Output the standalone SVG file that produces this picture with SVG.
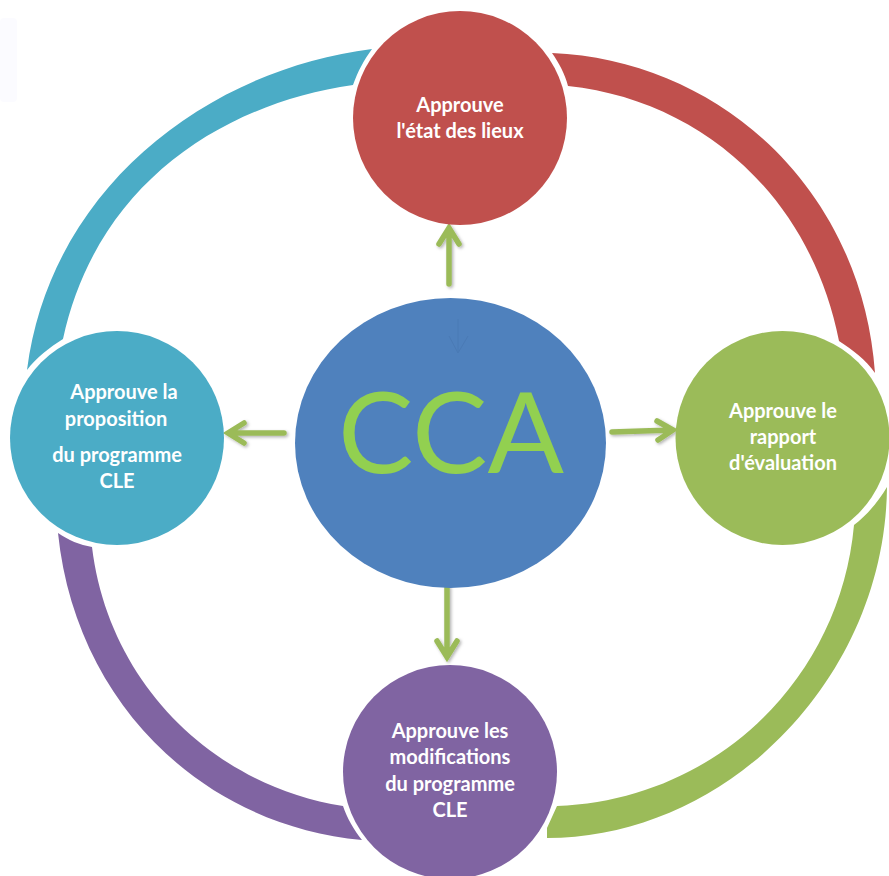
<svg xmlns="http://www.w3.org/2000/svg" width="889" height="876" viewBox="0 0 889 876">
<defs>
<filter id="sh" x="-40%" y="-40%" width="180%" height="180%"><feDropShadow dx="1.5" dy="1.5" stdDeviation="1.5" flood-color="#000" flood-opacity="0.3"/></filter>
</defs>
<style>
text{font-family:"Lato","Carlito","Liberation Sans",sans-serif;font-weight:700;font-size:20px;fill:#fff;text-anchor:middle}
.arrow{fill:none;stroke:#9BBB59;stroke-width:5.5;stroke-linecap:round;stroke-linejoin:miter;filter:url(#sh)}
</style>
<rect width="889" height="876" fill="#fff"/>
<rect x="0" y="18" width="17" height="84" rx="4" fill="#FBFBFF"/>
<g id="connectors">
<path fill="#4BACC6" d="M372 49C205 70 50 190 27 370C36 358 50 347 63 339C95 190 215 105 353 85C358 71 364 60 372 49Z"/>
<path fill="#C0504D" d="M552 53C720 60 862 190 875 373C866 360 853 350 839 341C810 195 700 100 568 86C565 74 559 63 552 53Z"/>
<path fill="#9BBB59" d="M887 487C885 680 725 838 547 838V828L557 806C715 800 840 680 854 525C867 515 878 502 887 487Z"/>
<path fill="#8064A2" d="M58 533C75 700 200 825 362 840C354 830 347 818 343 806C210 785 108 680 92 547C80 545 68 540 58 533Z"/>
<g class="arrows">
<path class="arrow" d="M449 284V229M439 244L449 228L459 244"/>
<path class="arrow" d="M284 433H229M244 423L228 433L244 443"/>
<path class="arrow" d="M612 432L672 430M657 421L673 430L658 440"/>
<path class="arrow" d="M447 587V656M437 641L447 657L457 641"/>
</g>
</g>
<g id="node-cca"><ellipse cx="450.500" cy="443" rx="155.500" ry="145" fill="#4F81BD"/>
<path d="M458 319V352M449 336L458 353L468 336" fill="none" stroke="#4A7AB5" stroke-width="1"/>
<text x="451" y="473" style="font-size:113px;font-weight:400;fill:#92D050">CCA</text></g>
<g id="node-top"><circle cx="460" cy="118" r="107" fill="#C0504D"/>
<text x="460" y="112">Approuve</text><text x="460" y="138">l'état des lieux</text></g>
<g id="node-right"><circle cx="782.500" cy="438" r="107" fill="#9BBB59"/>
<text x="783" y="418">Approuve  le</text><text x="783" y="444">rapport</text><text x="783" y="470">d'évaluation</text></g>
<g id="node-bottom"><circle cx="450" cy="772" r="107" fill="#8064A2"/>
<text x="450" y="738">Approuve les</text><text x="450" y="764">modifications</text><text x="450" y="791">du programme</text><text x="450" y="817">CLE</text></g>
<g id="node-left"><circle cx="117" cy="438" r="107" fill="#4BACC6"/>
<text x="124" y="399">Approuve la</text><text x="116" y="426">proposition</text><text x="117" y="462">du programme</text><text x="117" y="488">CLE</text></g>
</svg>
